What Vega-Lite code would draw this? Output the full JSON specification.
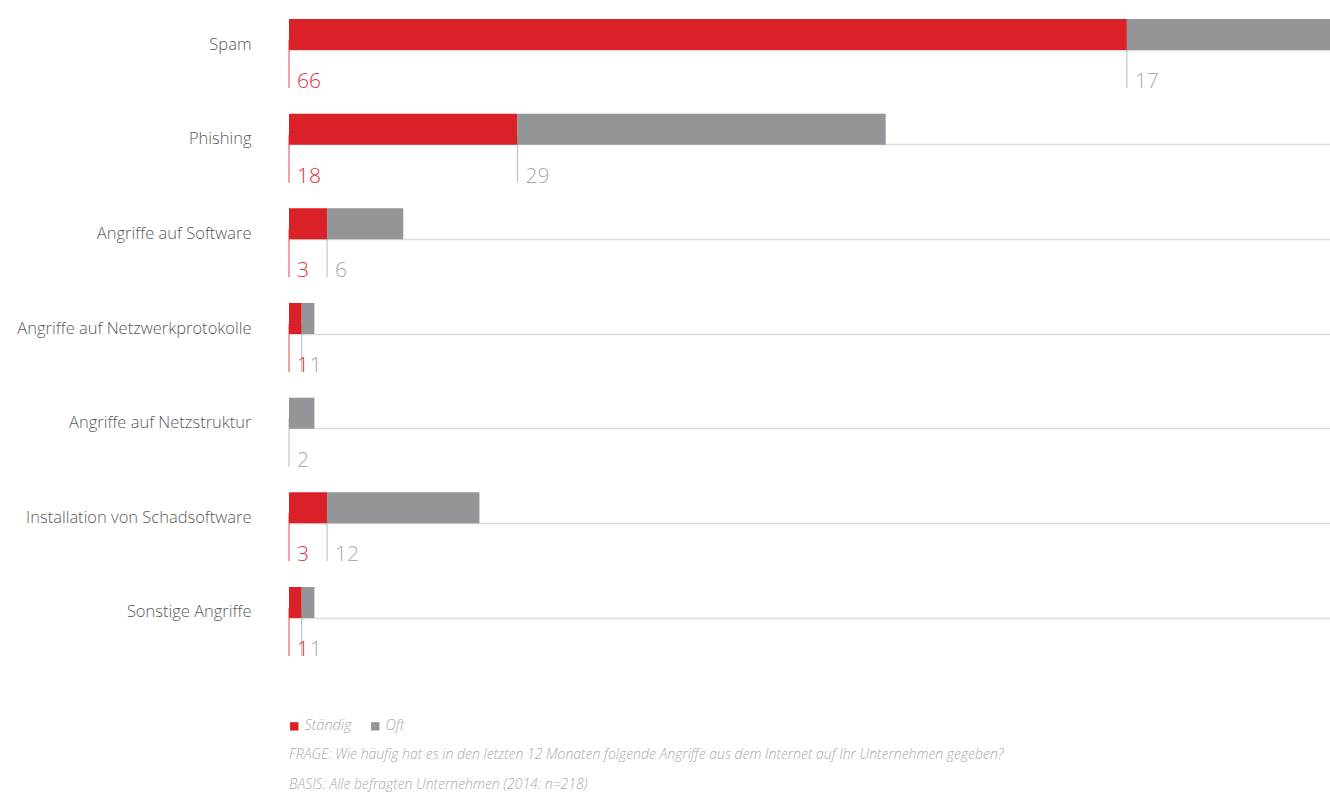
{
  "$schema": "https://vega.github.io/schema/vega-lite/v6.json",
  "autosize": "none",
  "padding": {"left": 289, "top": 19, "right": 0, "bottom": 175},
  "width": 1041,
  "height": 599,
  "background": "white",
  "config": {
    "view": {"stroke": null},
    "font": "Open Sans"
  },
  "title": {
    "text": ["FRAGE: Wie häufig hat es in den letzten 12 Monaten folgende Angriffe aus dem Internet auf Ihr Unternehmen gegeben?", "BASIS: Alle befragten Unternehmen (2014: n=218)"],
    "orient": "bottom",
    "anchor": "start",
    "frame": "group",
    "fontSize": 14,
    "fontStyle": "italic",
    "fontWeight": 300,
    "color": "#a7a9ac",
    "lineHeight": 30,
    "offset": 15
  },
  "data": {
    "values": [
      {"angriff": "Spam", "typ": "Ständig", "wert": 66},
      {"angriff": "Spam", "typ": "Oft", "wert": 17},
      {"angriff": "Phishing", "typ": "Ständig", "wert": 18},
      {"angriff": "Phishing", "typ": "Oft", "wert": 29},
      {"angriff": "Angriffe auf Software", "typ": "Ständig", "wert": 3},
      {"angriff": "Angriffe auf Software", "typ": "Oft", "wert": 6},
      {"angriff": "Angriffe auf Netzwerkprotokolle", "typ": "Ständig", "wert": 1},
      {"angriff": "Angriffe auf Netzwerkprotokolle", "typ": "Oft", "wert": 1},
      {"angriff": "Angriffe auf Netzstruktur", "typ": "Oft", "wert": 2},
      {"angriff": "Installation von Schadsoftware", "typ": "Ständig", "wert": 3},
      {"angriff": "Installation von Schadsoftware", "typ": "Oft", "wert": 12},
      {"angriff": "Sonstige Angriffe", "typ": "Ständig", "wert": 1},
      {"angriff": "Sonstige Angriffe", "typ": "Oft", "wert": 1}
    ]
  },
  "transform": [
    {"stack": "wert", "groupby": ["angriff"], "sort": [{"field": "typ", "order": "descending"}], "as": ["x0", "x1"]}
  ],
  "encoding": {
    "y": {
      "field": "angriff",
      "type": "nominal",
      "sort": ["Spam", "Phishing", "Angriffe auf Software", "Angriffe auf Netzwerkprotokolle", "Angriffe auf Netzstruktur", "Installation von Schadsoftware", "Sonstige Angriffe"],
      "scale": {"paddingInner": 0.6725, "paddingOuter": 0},
      "axis": {
        "title": null,
        "domain": false,
        "ticks": false,
        "labelPadding": 38,
        "labelLimit": 0,
        "labelFontSize": 16.5,
        "labelFontWeight": 300,
        "labelColor": "#58595b",
        "labelOffset": 10,
        "bandPosition": 1,
        "grid": true,
        "gridColor": "#dcdcdc",
        "gridWidth": 1.5
      }
    }
  },
  "layer": [
    {
      "mark": {"type": "tick", "thickness": 1.2, "yOffset": 29.5, "size": 48},
      "encoding": {
        "x": {"field": "x0", "type": "quantitative", "scale": {"domain": [0, 82], "nice": false}, "axis": null},
        "color": {"condition": {"test": "datum.typ === 'Ständig'", "value": "#DA2128"}, "value": "#a7a9ac"}
      }
    },
    {
      "mark": {"type": "bar"},
      "encoding": {
        "x": {"field": "x0", "type": "quantitative"},
        "x2": {"field": "x1"},
        "color": {
          "field": "typ",
          "type": "nominal",
          "scale": {"domain": ["Ständig", "Oft"], "range": ["#DA2128", "#939598"]},
          "legend": {
            "title": null,
            "orient": "none",
            "legendX": -2,
            "legendY": 700,
            "direction": "horizontal",
            "symbolType": "square",
            "symbolSize": 70,
            "symbolStrokeWidth": 0,
            "labelFontSize": 14.5,
            "labelFontStyle": "italic",
            "labelFontWeight": 300,
            "labelColor": "#a7a9ac",
            "labelOffset": 3,
            "columnPadding": 16
          }
        }
      }
    },
    {
      "mark": {"type": "text", "align": "left", "baseline": "alphabetic", "dx": 8, "dy": 38, "fontSize": 21, "fontWeight": 300},
      "encoding": {
        "x": {"field": "x0", "type": "quantitative"},
        "y": {"field": "angriff", "type": "nominal", "sort": ["Spam", "Phishing", "Angriffe auf Software", "Angriffe auf Netzwerkprotokolle", "Angriffe auf Netzstruktur", "Installation von Schadsoftware", "Sonstige Angriffe"], "bandPosition": 1},
        "text": {"field": "wert", "type": "quantitative"},
        "color": {"condition": {"test": "datum.typ === 'Ständig'", "value": "#E0313A"}, "value": "#a7a9ac"}
      }
    }
  ]
}
